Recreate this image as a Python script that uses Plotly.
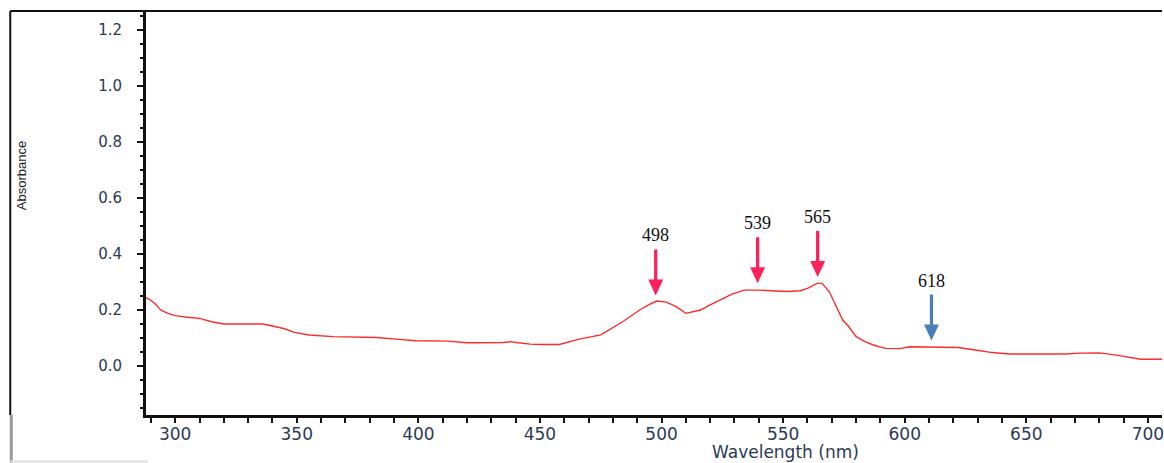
import plotly.graph_objects as go

# ---- data ----
wavelength = [288, 290, 292, 294, 297, 300, 305, 310, 315, 320, 330, 336, 340, 345, 349,
              355, 365, 383, 392, 399, 412, 420, 435, 438, 441, 446, 450, 458, 466, 475,
              484, 491, 495, 498, 502, 506, 510, 516, 520, 524, 529, 534, 540, 547, 552,
              557, 560, 564, 566, 569, 570.5, 572.5, 574.5, 577, 580, 583.5, 587, 592, 598,
              602, 610, 618, 622, 629, 636, 643, 655, 666, 672, 680, 687, 692, 697, 706]
absorbance = [0.244, 0.235, 0.220, 0.200, 0.188, 0.180, 0.174, 0.170, 0.158, 0.150, 0.150,
              0.150, 0.143, 0.133, 0.120, 0.111, 0.105, 0.102, 0.095, 0.090, 0.089, 0.083,
              0.084, 0.087, 0.083, 0.078, 0.077, 0.077, 0.096, 0.111, 0.158, 0.200, 0.220,
              0.232, 0.228, 0.212, 0.188, 0.200, 0.218, 0.236, 0.257, 0.271, 0.271, 0.268,
              0.266, 0.269, 0.277, 0.295, 0.295, 0.265, 0.236, 0.200, 0.164, 0.140, 0.105,
              0.088, 0.075, 0.063, 0.062, 0.069, 0.068, 0.068, 0.066, 0.057, 0.048, 0.043,
              0.043, 0.043, 0.046, 0.047, 0.039, 0.031, 0.024, 0.024]

peak_labels = ["498", "539", "565", "618"]
peak_x = [497.6, 539.5, 564.2, 611.0]
peak_tip = [0.252, 0.296, 0.318, 0.091]
peak_colors = ["#FF1F5A", "#FF1F5A", "#FF1F5A", "#4A7EBB"]

x_ticks = [300, 350, 400, 450, 500, 550, 600, 650, 700]
y_ticks = [0.0, 0.2, 0.4, 0.6, 0.8, 1.0, 1.2]
y_ticklabels = ["0.0", "0.2", "0.4", "0.6", "0.8", "1.0", "1.2"]

fig = go.Figure()
fig.add_trace(go.Scatter(x=wavelength, y=absorbance, mode="lines",
                         line=dict(color="#FF2A2A", width=1.4), hoverinfo="skip",
                         showlegend=False))

shapes = []
annotations = []
ARROW_LEN = 46
for lab, px, tip, col in zip(peak_labels, peak_x, peak_tip, peak_colors):
    path = ("M -1.6,{L} L 1.6,{L} L 1.6,16 L 7.5,16 L 0,0 L -7.5,16 L -1.6,16 Z"
            .format(L=ARROW_LEN))
    shapes.append(dict(type="path", xref="x", yref="y", xsizemode="pixel",
                       ysizemode="pixel", xanchor=px, yanchor=tip, path=path,
                       fillcolor=col, line=dict(width=0)))
    annotations.append(dict(x=px, y=tip, xref="x", yref="y", text=lab, showarrow=False,
                            yshift=60, yanchor="middle",
                            font=dict(family="Liberation Serif", size=18, color="#111111")))

# outer frame pieces
shapes += [
    dict(type="line", xref="paper", yref="paper", x0=-0.1336, x1=1, y0=1, y1=1,
         line=dict(color="#111111", width=2)),
    dict(type="line", xref="paper", yref="paper", x0=-0.1336, x1=-0.1336, y0=0, y1=1,
         line=dict(color="#111111", width=2)),
    dict(type="line", xref="paper", yref="paper", x0=-0.1326, x1=-0.1326, y0=-0.119, y1=0,
         line=dict(color="#9A9A9A", width=3)),
    dict(type="line", xref="paper", yref="paper", x0=-0.1336, x1=0.002, y0=-0.115, y1=-0.115,
         line=dict(color="#DDDDDD", width=2)),
]

annotations += [
    dict(x=0.6297, y=-0.1185, xref="paper", yref="paper", text="Wavelength (nm)",
         showarrow=False, xanchor="center", yanchor="bottom", borderpad=0,
         font=dict(family="DejaVu Sans", size=17, color="#2B3A55")),
    dict(x=-0.1218, y=0.5916, xref="paper", yref="paper", text="Absorbance",
         showarrow=False, textangle=-90, xanchor="center", yanchor="middle",
         font=dict(family="Liberation Sans", size=13, color="#222222")),
]

fig.update_layout(
    width=1164, height=463,
    margin=dict(l=146, r=0, t=11, b=48, pad=0),
    paper_bgcolor="white", plot_bgcolor="white",
    shapes=shapes, annotations=annotations,
    xaxis=dict(range=[288, 705.8], tickvals=x_ticks, ticks="outside", ticklen=5,
               tickwidth=1.5, tickcolor="#111111", showline=True, linecolor="#111111",
               linewidth=2.5, showgrid=False, zeroline=False,
               tickfont=dict(family="DejaVu Sans", size=17, color="#2B3A55"),
               ticklabelstandoff=-3, ticklabeloverflow="allow",
               minor=dict(dtick=10, ticks="outside", ticklen=5, tickwidth=1.5,
                          tickcolor="#111111", showgrid=False)),
    yaxis=dict(range=[-0.175, 1.268], tickvals=y_ticks, ticktext=y_ticklabels,
               ticks="outside", ticklen=6, tickwidth=1.5, tickcolor="#111111",
               showline=True, linecolor="#111111", linewidth=3, showgrid=False,
               zeroline=False, tickfont=dict(family="DejaVu Sans", size=15, color="#2B3A55"),
               ticklabelstandoff=12,
               minor=dict(dtick=0.05, tick0=0, ticks="outside", ticklen=3, tickwidth=1.5,
                          tickcolor="#111111", showgrid=False)),
)

fig.write_html("out.html", config={"displayModeBar": False},
               post_script="document.body.style.margin='0';document.body.style.overflow='hidden';")
